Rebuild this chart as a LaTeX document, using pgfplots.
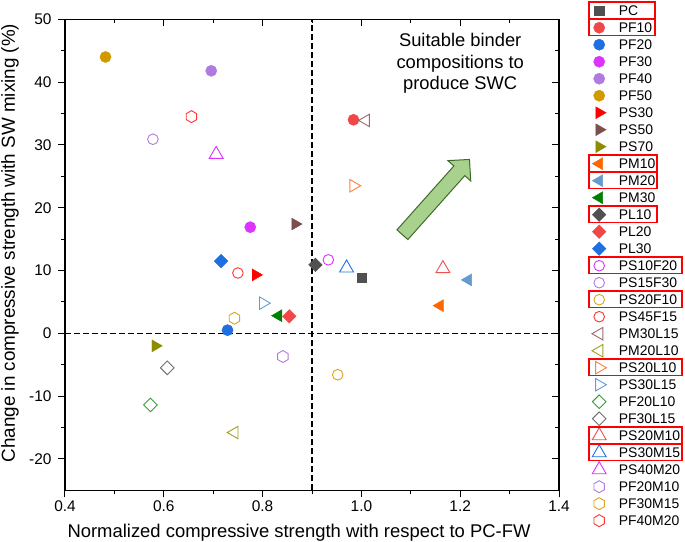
\documentclass[border=0pt]{standalone}
\usepackage{fontspec}
\setmainfont{Liberation Sans}
\usepackage{pgfplots}
\pgfplotsset{compat=1.18}
\usetikzlibrary{calc}

\pgfdeclareplotmark{hexagon}{%
  \pgfpathmoveto{\pgfpointpolar{90}{\pgfplotmarksize}}%
  \pgfpathlineto{\pgfpointpolar{150}{\pgfplotmarksize}}%
  \pgfpathlineto{\pgfpointpolar{210}{\pgfplotmarksize}}%
  \pgfpathlineto{\pgfpointpolar{270}{\pgfplotmarksize}}%
  \pgfpathlineto{\pgfpointpolar{330}{\pgfplotmarksize}}%
  \pgfpathlineto{\pgfpointpolar{30}{\pgfplotmarksize}}%
  \pgfpathclose\pgfusepathqstroke}

\definecolor{cPC}{HTML}{505050}
\definecolor{cRed}{HTML}{F04848}
\definecolor{cBlue}{HTML}{1F6FE0}
\definecolor{cMag}{HTML}{DD33FF}
\definecolor{cLav}{HTML}{B07AE0}
\definecolor{cGold}{HTML}{D09A00}
\definecolor{cPure}{HTML}{FF0000}
\definecolor{cBrown}{HTML}{7B4F4F}
\definecolor{cOlive}{HTML}{8C8C00}
\definecolor{cOrange}{HTML}{FF6600}
\definecolor{cSteel}{HTML}{6699CC}
\definecolor{cGreen}{HTML}{008000}
\definecolor{cOGold}{HTML}{DAA520}
\definecolor{cORed}{HTML}{FF3333}
\definecolor{cOBrown}{HTML}{9B6A6A}
\definecolor{cOOlive}{HTML}{A0A020}
\definecolor{cOOrange}{HTML}{FF8040}
\definecolor{cOLBlue}{HTML}{6699DD}
\definecolor{cOGreen}{HTML}{3A9A3A}
\definecolor{cOGray}{HTML}{707070}
\definecolor{cOPink}{HTML}{F05050}
\definecolor{cOBlue}{HTML}{2070E0}
\definecolor{arrowfill}{HTML}{A9D18E}
\definecolor{arrowdraw}{HTML}{3F6B2A}

\pgfplotsset{
  mk/.style={only marks, legend image code/.code={\draw[mark repeat=2,mark phase=2,##1] plot coordinates {(0bp,0bp) (8bp,0bp) (16bp,0bp)};}},
  fc/.style={mk, color=#1, mark=*, mark size=5.6bp},
  sq/.style={mk, color=#1, mark=square*, mark size=4.6bp},
  fd/.style={mk, color=#1, mark=square*, mark size=4.8bp, mark options={rotate=45}},
  frt/.style={mk, color=#1, mark=triangle*, mark size=6.9bp, mark options={rotate=-90}},
  flt/.style={mk, color=#1, mark=triangle*, mark size=6.9bp, mark options={rotate=90}},
  oc/.style={mk, color=#1, mark=o, mark size=5.3bp, mark options={line width=0.9bp}},
  olt/.style={mk, color=#1, mark=triangle, mark size=7.2bp, mark options={rotate=90, line width=0.9bp}},
  ort/.style={mk, color=#1, mark=triangle, mark size=7.2bp, mark options={rotate=-90, line width=0.9bp}},
  od/.style={mk, color=#1, mark=square, mark size=4.8bp, mark options={rotate=45, line width=0.9bp}},
  out/.style={mk, color=#1, mark=triangle, mark size=8bp, mark options={line width=0.9bp}},
  ohx/.style={mk, color=#1, mark=hexagon, mark size=6bp, mark options={line width=0.9bp}},
}

\begin{document}
\begin{tikzpicture}
\begin{axis}[
  scale only axis, width=494bp, height=471bp,
  xmin=0.4, xmax=1.4, ymin=-25, ymax=50,
  xtick={0.4,0.6,0.8,1.0,1.2,1.4}, ytick={-20,-10,0,10,20,30,40,50},
  minor x tick num=1, minor y tick num=1,
  xtick pos=left, ytick pos=left, tick align=outside,
  major tick length=7bp, minor tick length=4bp,
  axis line style={line width=1.1bp},
  tick style={line width=1bp, black},
  /pgf/number format/assume math mode=true,
  xticklabel style={/pgf/number format/.cd, fixed, fixed zerofill, precision=1},
  yticklabel style={xshift=-3bp},
  tick label style={font=\fontsize{15.5}{18}\selectfont},
  label style={font=\fontsize{18.5}{22}\selectfont},
  xlabel={Normalized compressive strength with respect to PC-FW},
  ylabel={Change in compressive strength with SW mixing (\%)},
  xlabel style={at={(axis description cs:0.4737,-0.1002)}, anchor=base, inner sep=0pt},
  ylabel style={at={(axis description cs:-0.1296,0.525)}, anchor=north, inner sep=0pt, font=\fontsize{18.9}{22}\selectfont},
  legend cell align=left,
  legend style={at={(1,1)}, anchor=north west, xshift=33bp, yshift=17.1bp,
    draw=none, fill=none, inner sep=0pt, outer sep=0pt, row sep=0pt, column sep=12.5bp,
    font=\fontsize{14}{16}\selectfont,
    nodes={inner sep=0pt, text height=13.5bp, text depth=3.5bp},
    name=leg},
]
\addplot[black, dash pattern=on 6bp off 3bp, line width=1.2bp, forget plot] coordinates {(0.9,-25) (0.9,50)};
\addplot[black, dash pattern=on 6bp off 3bp, line width=1.2bp, forget plot] coordinates {(0.4,0) (1.4,0)};

\addplot[sq=cPC] coordinates {(1.0,8.9)}; \addlegendentry{PC}
\addplot[fc=cRed] coordinates {(0.984,34.0)}; \addlegendentry{PF10}
\addplot[fc=cBlue] coordinates {(0.729,0.5)}; \addlegendentry{PF20}
\addplot[fc=cMag] coordinates {(0.775,16.9)}; \addlegendentry{PF30}
\addplot[fc=cLav] coordinates {(0.696,41.8)}; \addlegendentry{PF40}
\addplot[fc=cGold] coordinates {(0.482,44.0)}; \addlegendentry{PF50}
\addplot[frt=cPure] coordinates {(0.786,9.3)}; \addlegendentry{PS30}
\addplot[frt=cBrown] coordinates {(0.866,17.4)}; \addlegendentry{PS50}
\addplot[frt=cOlive] coordinates {(0.583,-2.0)}; \addlegendentry{PS70}
\addplot[flt=cOrange] coordinates {(1.159,4.4)}; \addlegendentry{PM10}
\addplot[flt=cSteel] coordinates {(1.216,8.5)}; \addlegendentry{PM20}
\addplot[flt=cGreen] coordinates {(0.832,2.8)}; \addlegendentry{PM30}
\addplot[fd=cPC] coordinates {(0.907,10.9)}; \addlegendentry{PL10}
\addplot[fd=cRed] coordinates {(0.854,2.7)}; \addlegendentry{PL20}
\addplot[fd=cBlue] coordinates {(0.716,11.5)}; \addlegendentry{PL30}
\addplot[oc=cMag] coordinates {(0.933,11.7)}; \addlegendentry{PS10F20}
\addplot[oc=cLav] coordinates {(0.578,30.9)}; \addlegendentry{PS15F30}
\addplot[oc=cOGold] coordinates {(0.952,-6.6)}; \addlegendentry{PS20F10}
\addplot[oc=cORed] coordinates {(0.750,9.6)}; \addlegendentry{PS45F15}
\addplot[olt=cOBrown] coordinates {(1.009,33.9)}; \addlegendentry{PM30L15}
\addplot[olt=cOOlive] coordinates {(0.743,-15.8)}; \addlegendentry{PM20L10}
\addplot[ort=cOOrange] coordinates {(0.984,23.5)}; \addlegendentry{PS20L10}
\addplot[ort=cOLBlue] coordinates {(0.801,4.8)}; \addlegendentry{PS30L15}
\addplot[od=cOGreen] coordinates {(0.573,-11.4)}; \addlegendentry{PF20L10}
\addplot[od=cOGray] coordinates {(0.607,-5.5)}; \addlegendentry{PF30L15}
\addplot[out=cOPink] coordinates {(1.165,10.3)}; \addlegendentry{PS20M10}
\addplot[out=cOBlue] coordinates {(0.970,10.4)}; \addlegendentry{PS30M15}
\addplot[out=cMag] coordinates {(0.706,28.5)}; \addlegendentry{PS40M20}
\addplot[ohx=cLav] coordinates {(0.841,-3.7)}; \addlegendentry{PF20M10}
\addplot[ohx=cOGold] coordinates {(0.743,2.4)}; \addlegendentry{PF30M15}
\addplot[ohx=cORed] coordinates {(0.656,34.5)}; \addlegendentry{PF40M20}

\node[align=center, font=\fontsize{18.4}{22}\selectfont, inner sep=0pt] at (axis cs:1.2,43.0) {Suitable binder\\compositions to\\produce SWC};

\draw[fill=arrowfill, draw=arrowdraw, line width=1bp, shift={(axis cs:1.083,15.7)}, rotate=48.3]
  (0bp,-7.3bp) -- (85.6bp,-7.3bp) -- (85.6bp,-15.3bp) -- (100.8bp,0bp) -- (85.6bp,15.3bp) -- (85.6bp,7.3bp) -- (0bp,7.3bp) -- cycle;
\end{axis}
\begin{axis}[
  scale only axis, width=494bp, height=471bp,
  xmin=0.4, xmax=1.4, ymin=-25, ymax=50,
  xtick={0.4,0.6,0.8,1.0,1.2,1.4}, ytick={-20,-10,0,10,20,30,40,50},
  minor x tick num=1, minor y tick num=1,
  xtick pos=right, ytick pos=right, tick align=inside,
  major tick length=7bp, minor tick length=4bp,
  xticklabels={}, yticklabels={},
  axis line style={draw=none},
  tick style={line width=1bp, black},
]
\end{axis}
\foreach \r/\w in {1/66,2/66,10/68,11/68,13/68,16/93,18/93,22/93,26/93,27/93}
  \draw[red, line width=1.1bp] ($(leg.north west)+(-3bp,{-17*(\r-1)*1bp+0.2bp})$) rectangle ++(\w bp,-16.8bp);
\pgfresetboundingbox
\path[use as bounding box] (-65bp,-51.7bp) rectangle ++(685bp,542bp);
\end{tikzpicture}
\end{document}
